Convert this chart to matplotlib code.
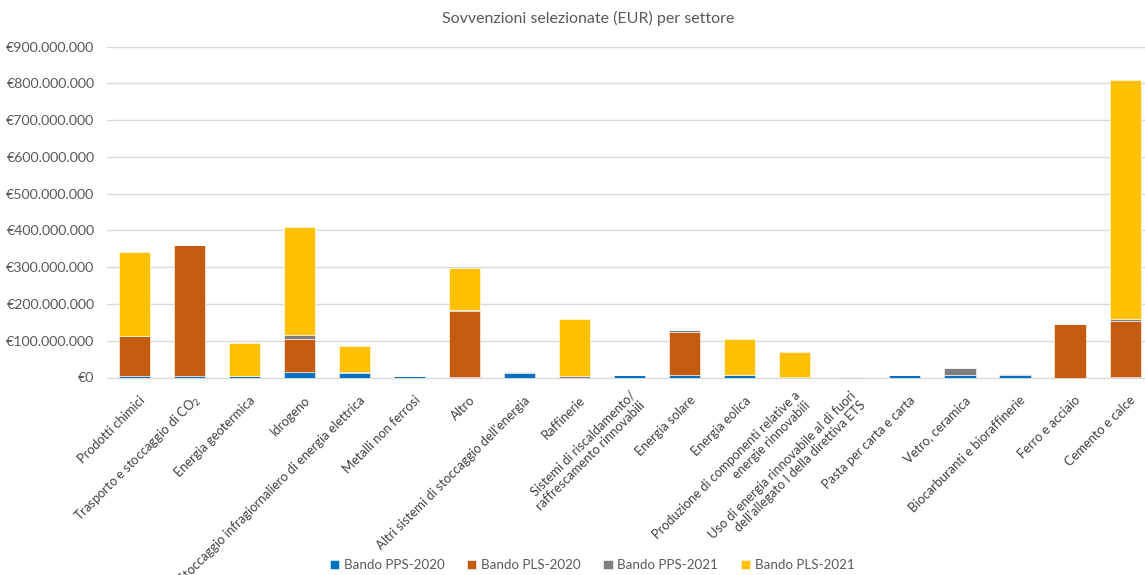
import matplotlib
matplotlib.use("Agg")
import matplotlib.pyplot as plt
import matplotlib.transforms as mtransforms
import numpy as np
from matplotlib.ticker import FuncFormatter

plt.rcParams['font.family'] = ['Lato', 'DejaVu Sans']

sectors = [
    "Prodotti chimici",
    "Trasporto e stoccaggio di CO$_2$",
    "Energia geotermica",
    "Idrogeno",
    "Stoccaggio infragiornaliero di energia elettrica",
    "Metalli non ferrosi",
    "Altro",
    "Altri sistemi di stoccaggio dell'energia",
    "Raffinerie",
    "Sistemi di riscaldamento/\nraffrescamento rinnovabili",
    "Energia solare",
    "Energia eolica",
    "Produzione di componenti relative a\nenergie rinnovabili",
    "Uso di energia rinnovabile al di fuori\ndell'allegato I della direttiva ETS",
    "Pasta per carta e carta",
    "Vetro, ceramica",
    "Biocarburanti e bioraffinerie",
    "Ferro e acciaio",
    "Cemento e calce",
]

# Selected grants in EUR, per call
pps_2020 = [3e6, 3e6, 5e6, 16e6, 12e6, 3e6, 1e6, 11e6, 0, 7e6, 7e6, 7e6, 0, 0, 8e6, 6e6, 7e6, 0, 1e6]
pls_2020 = [109e6, 357e6, 0, 90e6, 0, 0, 180e6, 0, 0, 0, 118e6, 0, 0, 0, 0, 0, 0, 145e6, 154e6]
pps_2021 = [0, 0, 0, 10e6, 2e6, 0, 2e6, 3e6, 5e6, 0, 3e6, 1e6, 2e6, 2e6, 0, 21e6, 3e6, 0, 3e6]
pls_2021 = [230e6, 0, 90e6, 294e6, 73e6, 0, 116e6, 0, 155e6, 0, 0, 98e6, 68e6, 0, 0, 0, 0, 0, 652e6]

series = [
    ("Bando PPS-2020", pps_2020, "#0070C0"),
    ("Bando PLS-2020", pls_2020, "#C55A11"),
    ("Bando PPS-2021", pps_2021, "#7F7F7F"),
    ("Bando PLS-2021", pls_2021, "#FFC000"),
]

W, H = 1145, 575
fig = plt.figure(figsize=(W / 100, H / 100), dpi=100)
ax = fig.add_axes([107 / W, 1 - 377.5 / H, 19 * 55.03 / W, (377.5 - 46.7) / H])

x = np.arange(len(sectors))
bottom = np.zeros(len(sectors))
for name, vals, col in series:
    v = np.array(vals, dtype=float)
    ax.bar(x, v, width=0.565, bottom=bottom, color=col, label=name,
           edgecolor="white", linewidth=0.4, zorder=3)
    bottom += v

ax.set_ylim(0, 900e6)
ax.set_yticks(np.arange(0, 900e6 + 1, 100e6))
ax.yaxis.set_major_formatter(FuncFormatter(
    lambda v, p: "€" + f"{int(round(v)):,}".replace(",", ".")))
ax.set_xlim(-0.5, len(sectors) - 0.5)
ax.grid(axis="y", color="#D9D9D9", linewidth=1, zorder=0)
for s in ["top", "right", "left"]:
    ax.spines[s].set_visible(False)
ax.spines["bottom"].set_color("#D9D9D9")
ax.tick_params(axis="both", length=0, colors="#595959", labelsize=10.2)
ax.tick_params(axis="y", pad=9)
ax.tick_params(axis="x", pad=15)
ax.set_xticks(x)
ax.set_xticklabels(sectors, rotation=45, ha="right", va="center",
                   rotation_mode="anchor", fontsize=9.3, color="#404040",
                   linespacing=1.2)
shift = mtransforms.ScaledTranslation(8.5 / 100, 0, fig.dpi_scale_trans)
for lab in ax.get_xticklabels():
    lab.set_transform(lab.get_transform() + shift)

fig.text(588 / W, 1 - 18 / H, "Sovvenzioni selezionate (EUR) per settore",
         ha="center", va="center", fontsize=11.5, color="#595959")

fig.legend(loc="center", ncol=4, frameon=False, fontsize=9.6,
           bbox_to_anchor=(592 / W, 1 - 565 / H), handlelength=0.7,
           handleheight=0.7, columnspacing=1.7, handletextpad=0.35,
           labelcolor="#595959")

fig.savefig("out.png", dpi=100)
